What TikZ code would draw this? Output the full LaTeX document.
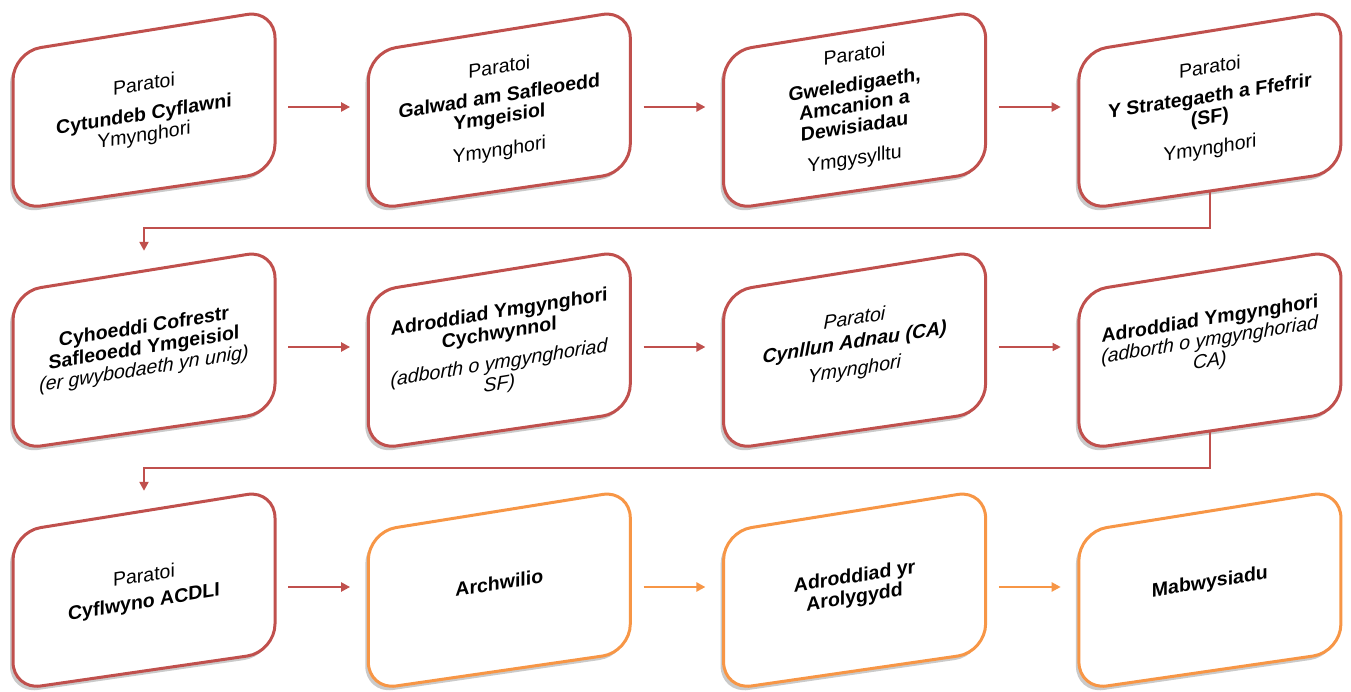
\documentclass[tikz,border=0pt]{standalone}
\usepackage{fontspec}
\setmainfont{Liberation Sans}
\usetikzlibrary{arrows.meta,shadows}
\definecolor{cred}{HTML}{C0504D}
\definecolor{corange}{HTML}{F79646}
\tikzset{
  boxline/.style={line width=3pt, fill=white, rounded corners=28pt,
    drop shadow={shadow xshift=-3pt, shadow yshift=-4pt, opacity=.35, fill=black!60}},
  anchorbox/.style={rectangle, minimum width=262pt, minimum height=168pt, inner sep=0pt, draw=none},
  txt/.style={font=\fontsize{19.5}{21}\selectfont, align=center, transform shape, inner sep=0pt},
  arr/.style={draw=#1, line width=2.5pt, -{Triangle[length=9pt,width=9pt]}, shorten <=13pt, shorten >=18pt},
  arr/.default=cred,
  thinarr/.style={draw=cred, line width=1.2pt, -{Triangle[length=8pt,width=8pt]}, shorten <=13pt, shorten >=18pt},
  link/.style={draw=cred, line width=2.5pt, -{Triangle[length=9pt,width=9pt]}, shorten >=12pt}
}
\newcommand{\flowbox}[6]{%
  \pgfmathsetmacro{\xl}{13+355.3*#2}%
  \pgfmathsetmacro{\xr}{\xl+262}%
  \pgfmathsetmacro{\yo}{240*#3}%
  \draw[boxline, draw=#4] (\xl,131+\yo) -- (\xl,52+\yo) -- (\xr,10+\yo) -- (\xr,172+\yo) -- (\xl,210+\yo) -- cycle;
  \node[anchorbox] (#1) at (\xl+131,107+\yo) {};
  \begin{scope}[shift={(\xl+131,#5)}, yslant=0.16]
    \node[txt] (#1-t) at (0,0) {#6};
  \end{scope}
}
\begin{document}
\begin{tikzpicture}[x=1pt,y=-1pt]
\useasboundingbox (0,0) rectangle (1351,692);
% row 1
\flowbox{b1}{0}{0}{cred}{111}{Paratoi\\[9pt]\textbf{Cytundeb Cyflawni}\\Ymynghori}
\flowbox{b2}{1}{0}{cred}{110}{Paratoi\\[8pt]\textbf{Galwad am Safleoedd}\\\textbf{Ymgeisiol}\\[12pt]Ymynghori}
\flowbox{b3}{2}{0}{cred}{108}{Paratoi\\[9pt]\textbf{Gweledigaeth,}\\\textbf{Amcanion a}\\\textbf{Dewisiadau}\\[11pt]Ymgysylltu}
\flowbox{b4}{3}{0}{cred}{109}{Paratoi\\[8pt]\textbf{Y Strategaeth a Ffefrir}\\\textbf{(SF)}\\[10pt]Ymynghori}
% row 2
\flowbox{b5}{0}{1}{cred}{349}{\textbf{Cyhoeddi Cofrestr}\\\textbf{Safleoedd Ymgeisiol}\\\textit{(er gwybodaeth yn unig)}}
\flowbox{b6}{1}{1}{cred}{349}{\textbf{Adroddiad Ymgynghori}\\\textbf{Cychwynnol}\\[9pt]\textit{(adborth o ymgynghoriad}\\\textit{SF)}}
\flowbox{b7}{2}{1}{cred}{345}{\textit{Paratoi}\\[3pt]\textbf{\textit{Cynllun Adnau (CA)}}\\[6pt]\textit{Ymynghori}}
\flowbox{b8}{3}{1}{cred}{341}{\textbf{Adroddiad Ymgynghori}\\\textit{(adborth o ymgynghoriad}\\\textit{CA)}}
% row 3
\flowbox{b9}{0}{2}{cred}{590}{Paratoi\\[5pt]\textbf{Cyflwyno ACDLI}}
\flowbox{b10}{1}{2}{corange}{583}{\textbf{Archwilio}}
\flowbox{b11}{2}{2}{corange}{588}{\textbf{Adroddiad yr}\\\textbf{Arolygydd}}
\flowbox{b12}{3}{2}{corange}{583}{\textbf{Mabwysiadu}}
% arrows
\draw[arr] (b1) -- (b2);
\draw[arr] (b2) -- (b3);
\draw[arr] (b3) -- (b4);
\draw[arr] (b5) -- (b6);
\draw[arr] (b6) -- (b7);
\draw[thinarr] (b7) -- (b8);
\draw[arr] (b9) -- (b10);
\draw[arr=corange] (b10) -- (b11);
\draw[arr=corange] (b11) -- (b12);
\draw[link] (b4.south) -- ++(0,37) -| (b5.north);
\draw[link] (b8.south) -- ++(0,37) -| (b9.north);
\end{tikzpicture}
\end{document}
